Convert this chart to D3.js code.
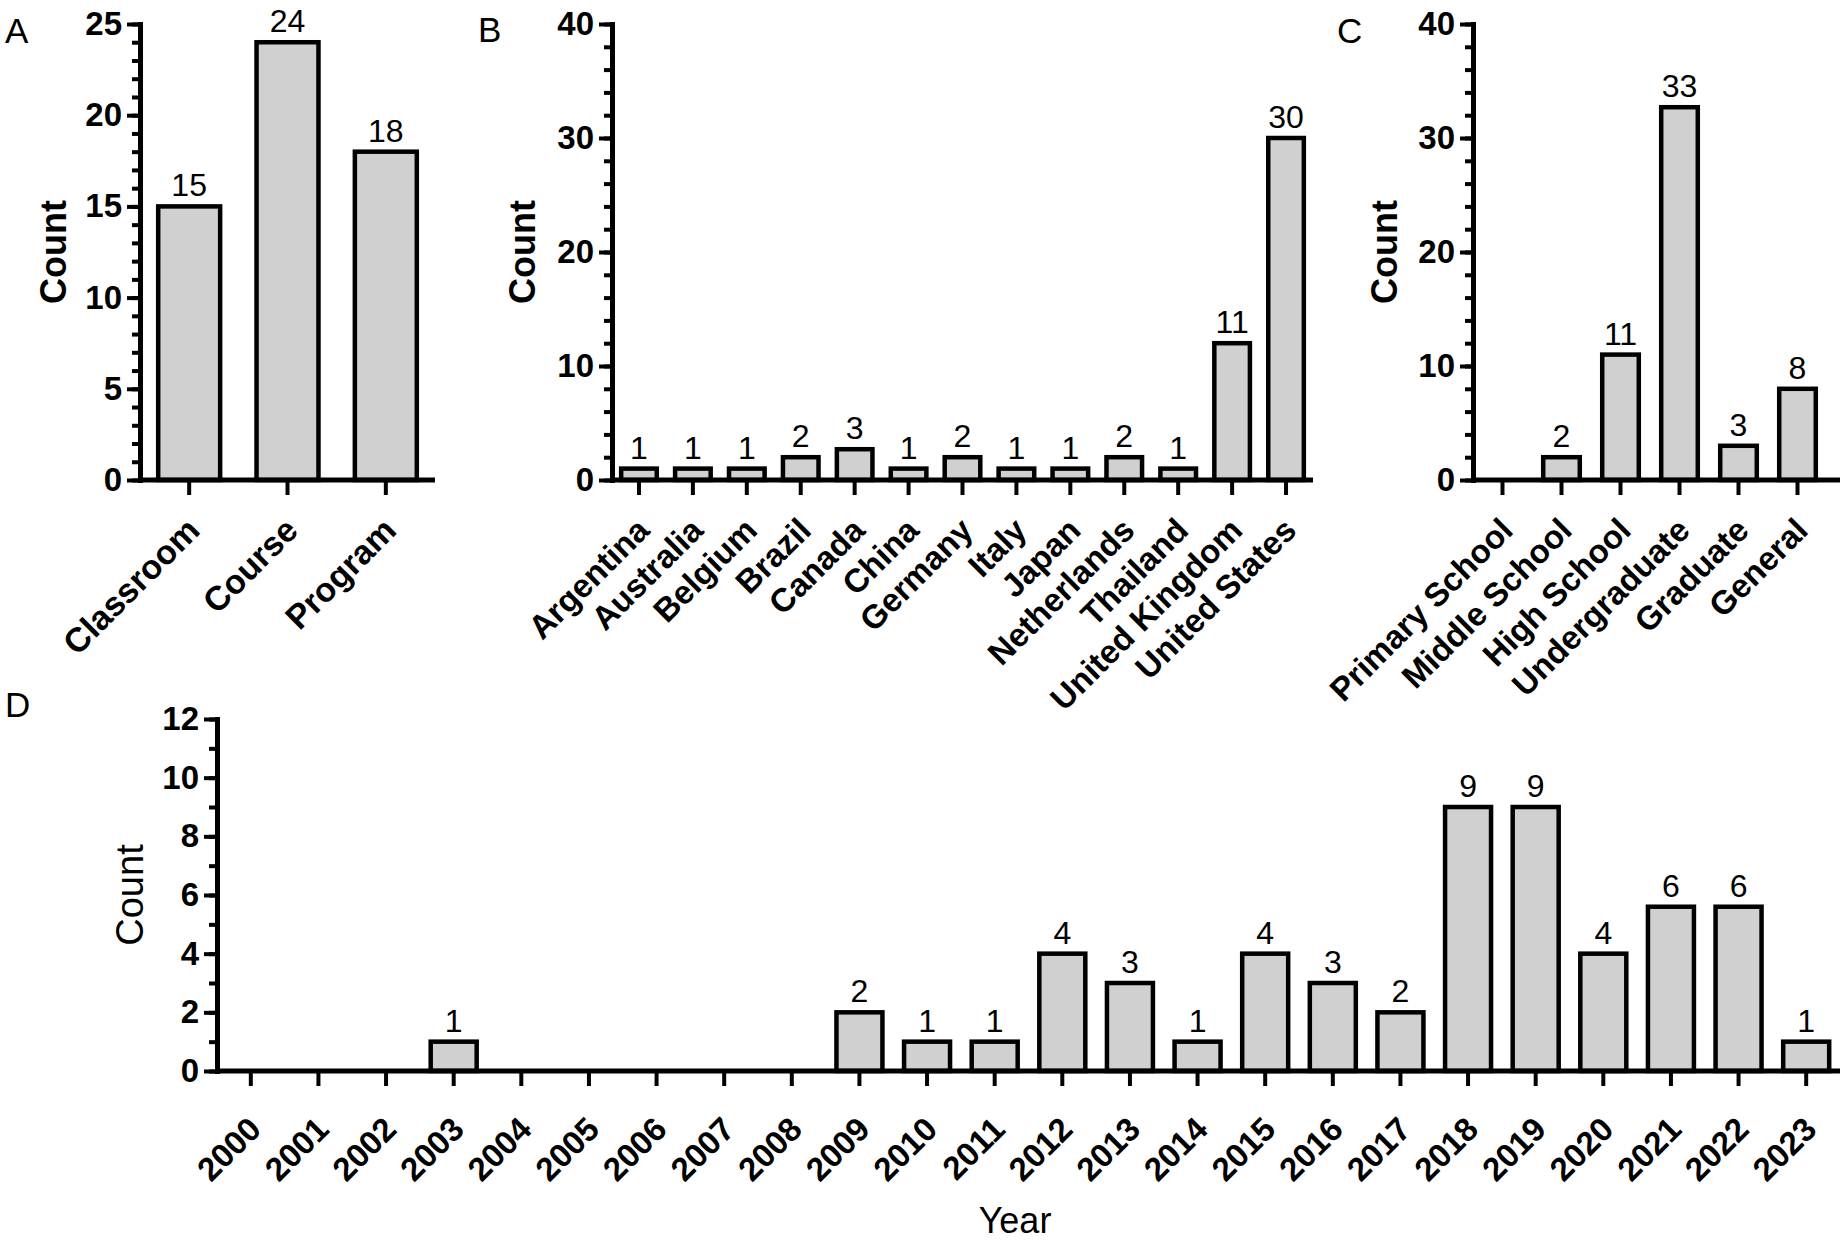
<!DOCTYPE html>
<html>
<head>
<meta charset="utf-8">
<script src="https://cdn.jsdelivr.net/npm/d3@7"></script>
<style>
  html, body { margin: 0; padding: 0; background: #fff; }
  svg { display: block; font-family: "Liberation Sans", Arial, sans-serif; }
</style>
</head>
<body>
<svg id="chart" width="1847" height="1240"></svg>
<script>
/* Four bar panels of study counts: type, country, level and year. */

var typeNames = ["Classroom", "Course", "Program"];
var typeCounts = [15, 24, 18];
var typeLabels = ["15", "24", "18"];
var typeTicks = [0, 5, 10, 15, 20, 25];

var countryNames = ["Argentina", "Australia", "Belgium", "Brazil", "Canada", "China", "Germany",
  "Italy", "Japan", "Netherlands", "Thailand", "United Kingdom", "United States"];
var countryCounts = [1, 1, 1, 2, 2.7, 1, 2, 1, 1, 2, 1, 12, 30];
var countryLabels = ["1", "1", "1", "2", "3", "1", "2", "1", "1", "2", "1", "11", "30"];
var countryTicks = [0, 10, 20, 30, 40];

var levelNames = ["Primary School", "Middle School", "High School", "Undergraduate", "Graduate", "General"];
var levelCounts = [0, 2, 11, 32.7, 3, 8];
var levelLabels = ["", "2", "11", "33", "3", "8"];
var levelTicks = [0, 10, 20, 30, 40];

var yearNames = ["2000", "2001", "2002", "2003", "2004", "2005", "2006", "2007", "2008", "2009", "2010", "2011",
  "2012", "2013", "2014", "2015", "2016", "2017", "2018", "2019", "2020", "2021", "2022", "2023"];
var yearCounts = [0, 0, 0, 1, 0, 0, 0, 0, 0, 2, 1, 1, 4, 3, 1, 4, 3, 2, 9, 9, 4, 5.6, 5.6, 1];
var yearLabels = ["", "", "", "1", "", "", "", "", "", "2", "1", "1", "4", "3", "1", "4", "3", "2", "9", "9", "4", "6", "6", "1"];
var yearTicks = [0, 2, 4, 6, 8, 10, 12];

var svg = d3.select("#chart");
var FONT = "Liberation Sans, Arial, sans-serif";

function drawPanel(p) {
  var g = svg.append("g");
  var x = d3.scaleBand().domain(p.names)
    .range([p.left, p.right])
    .paddingInner(p.pad).paddingOuter(p.pad / 2);
  var y = d3.scaleLinear().domain([0, p.max]).range([p.bottom, p.top]);

  var rows = p.names.map(function (n, i) { return { name: n, v: p.counts[i], label: p.labels[i] }; });

  g.selectAll("rect").data(rows.filter(function (d) { return d.v > 0; })).enter().append("rect")
    .attr("x", function (d) { return x(d.name); })
    .attr("y", function (d) { return y(d.v); })
    .attr("width", x.bandwidth())
    .attr("height", function (d) { return y(0) - y(d.v); })
    .attr("fill", "#d0d0d0")
    .attr("stroke", "#000")
    .attr("stroke-width", 4.5);

  g.selectAll("text.val").data(rows.filter(function (d) { return d.label; })).enter().append("text")
    .attr("class", "val")
    .attr("x", function (d) { return x(d.name) + x.bandwidth() / 2; })
    .attr("y", function (d) { return y(d.v) - 10; })
    .attr("text-anchor", "middle")
    .attr("font-size", 32)
    .text(function (d) { return d.label; });

  // minor ticks on the count axis
  var minor = g.append("g").attr("transform", "translate(" + p.left + ",0)")
    .call(d3.axisLeft(y).tickValues(d3.range(0, p.max + 0.01, p.minorStep)).tickSize(8).tickFormat(""));
  minor.select(".domain").remove();
  minor.selectAll("line").attr("stroke-width", 4);

  var major = g.append("g").attr("transform", "translate(" + p.left + ",0)")
    .call(d3.axisLeft(y).tickValues(p.ticks).tickSizeInner(13).tickSizeOuter(0).tickPadding(5));
  major.select(".domain").attr("stroke-width", 5).attr("stroke-linecap", "square");
  major.selectAll("line").attr("stroke-width", 4);
  major.selectAll("text")
    .attr("font-size", 33).attr("font-weight", 700).attr("font-family", FONT);

  // category axis
  var xa = g.append("g").attr("transform", "translate(0," + p.bottom + ")")
    .call(d3.axisBottom(x).tickSizeInner(15).tickSizeOuter(0));
  xa.select(".domain").remove();
  xa.selectAll("line").attr("stroke-width", 4);
  xa.selectAll("text")
    .attr("x", 0).attr("y", 0).attr("dy", "0.35em")
    .attr("text-anchor", "end")
    .attr("transform", "translate(" + p.labelDx + "," + p.labelDy + ") rotate(-45)")
    .attr("font-size", p.labelSize).attr("font-weight", 700).attr("font-family", FONT);

  g.append("line")
    .attr("x1", p.left).attr("x2", p.axisEnd)
    .attr("y1", y(0)).attr("y2", y(0))
    .attr("stroke", "#000").attr("stroke-width", 5);

  g.append("text")
    .attr("transform", "translate(" + (p.left - p.titleGap) + "," + ((p.top + p.bottom) / 2) + ") rotate(-90)")
    .attr("text-anchor", "middle")
    .attr("font-size", p.titleSize)
    .attr("font-weight", p.titleWeight)
    .text("Count");

  svg.append("text")
    .attr("x", p.letterX).attr("y", p.letterY)
    .attr("font-size", 35)
    .text(p.letter);

  return x;
}

drawPanel({
  names: typeNames, counts: typeCounts, labels: typeLabels, ticks: typeTicks, max: 25, minorStep: 1,
  left: 140, right: 435, axisEnd: 435, top: 24, bottom: 480, pad: 0.37,
  labelSize: 34, labelDx: 4, labelDy: 44,
  titleGap: 74, titleSize: 36, titleWeight: 700, letter: "A", letterX: 5, letterY: 43
});

drawPanel({
  names: countryNames, counts: countryCounts, labels: countryLabels, ticks: countryTicks, max: 40, minorStep: 2,
  left: 612, right: 1313, axisEnd: 1313, top: 24, bottom: 480, pad: 0.34,
  labelSize: 33, labelDx: 4, labelDy: 44,
  titleGap: 77, titleSize: 36, titleWeight: 700, letter: "B", letterX: 478, letterY: 42
});

drawPanel({
  names: levelNames, counts: levelCounts, labels: levelLabels, ticks: levelTicks, max: 40, minorStep: 2,
  left: 1473, right: 1827, axisEnd: 1840, top: 24, bottom: 480, pad: 0.38,
  labelSize: 33, labelDx: 4, labelDy: 44,
  titleGap: 76, titleSize: 36, titleWeight: 700, letter: "C", letterX: 1337, letterY: 43
});

drawPanel({
  names: yearNames, counts: yearCounts, labels: yearLabels, ticks: yearTicks, max: 12, minorStep: 1,
  left: 217, right: 1840, axisEnd: 1840, top: 719, bottom: 1071, pad: 0.32,
  labelSize: 33, labelDx: 4, labelDy: 52,
  titleGap: 74, titleSize: 38, titleWeight: 400, letter: "D", letterX: 5, letterY: 717
});

svg.append("text")
  .attr("x", 1015).attr("y", 1233)
  .attr("text-anchor", "middle")
  .attr("font-size", 36)
  .text("Year");
</script>
</body>
</html>
